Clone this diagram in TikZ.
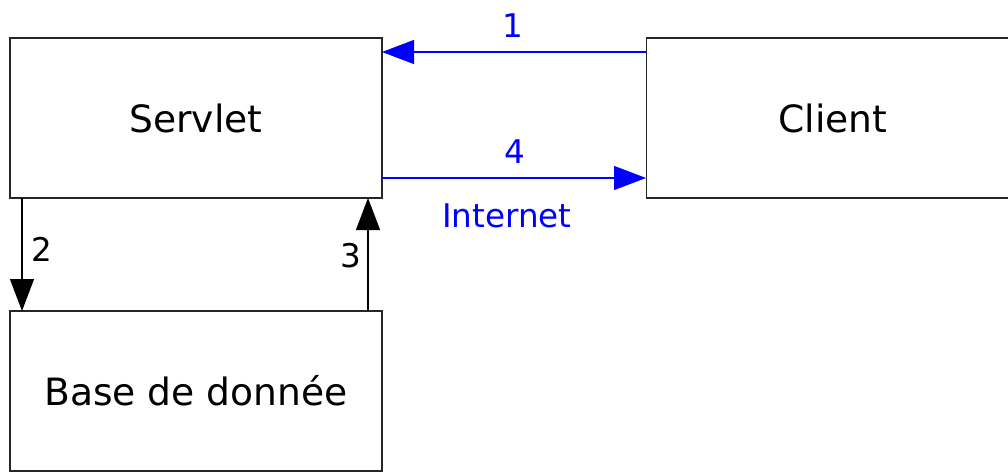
\documentclass[tikz,border=0pt]{standalone}
\usepackage{fontspec}
\setmainfont{DejaVu Sans}
\usetikzlibrary{arrows.meta}
\begin{document}
\begin{tikzpicture}[x=1pt,y=-1pt,
  box/.style={draw=black!85,line width=1.3pt,inner sep=0pt,font=\fontsize{37.6}{44}\selectfont},
  conn/.style={line width=1.2pt,-{Triangle[length=32pt,width=24pt]}},
  lbl/.style={font=\fontsize{32.6}{38}\selectfont,inner sep=0pt}]
\useasboundingbox (0,0) rectangle (1008,473);
\begin{scope}
\clip (0,0) rectangle (1008,473);
\node[box,minimum width=372pt,minimum height=160pt] (servlet) at (196,118) {Servlet};
\node[box,minimum width=380pt,minimum height=160pt,anchor=west] (client) at (646,118) {};
\node[box,minimum width=372pt,minimum height=160pt] (base) at (196,391) {Base de donnée};
\end{scope}
\node[font=\fontsize{37.6}{44}\selectfont,inner sep=0pt] (clienttext) at (833,118) {Client};
\coordinate (c1) at (646,52);
\coordinate (s1) at (382,52);
\coordinate (s4) at (382,178);
\coordinate (c4) at (646,178);
\coordinate (s2) at (22,198);
\coordinate (b2) at (22,311);
\coordinate (b3) at (368,311);
\coordinate (s3) at (368,198);
\draw[conn,blue] (c1) -- (s1);
\draw[conn,blue] (s4) -- (c4);
\draw[conn,black] (s2) -- (b2);
\draw[conn,black] (b3) -- (s3);
\node[lbl,text=blue] (l1) at (513,26) {1};
\node[lbl,text=blue] (l4) at (515,152) {4};
\node[lbl,text=blue] (linternet) at (507,216) {Internet};
\node[lbl] (l2) at (42,249) {2};
\node[lbl] (l3) at (351,256) {3};
\end{tikzpicture}
\end{document}
